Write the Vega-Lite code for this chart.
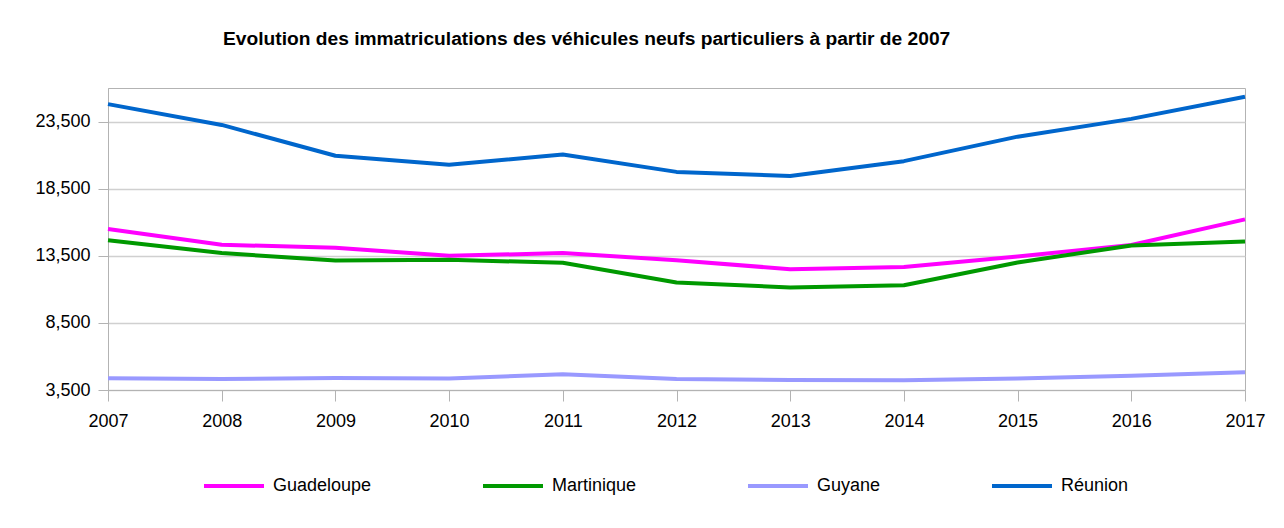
{
  "$schema": "https://vega.github.io/schema/vega-lite/v6.json",
  "autosize": {"type": "none"},
  "width": 1137,
  "height": 302,
  "padding": {"left": 108, "top": 88, "right": 39, "bottom": 138},
  "background": "white",
  "title": {
    "text": "Evolution des immatriculations des véhicules neufs particuliers à partir de 2007",
    "anchor": "start",
    "frame": "group",
    "dx": 115,
    "offset": 39,
    "font": "Liberation Sans",
    "fontSize": 19.2,
    "fontWeight": "bold",
    "color": "black"
  },
  "data": {
    "values": [
      {"year": 2007, "region": "Guadeloupe", "value": 15490},
      {"year": 2008, "region": "Guadeloupe", "value": 14320},
      {"year": 2009, "region": "Guadeloupe", "value": 14100},
      {"year": 2010, "region": "Guadeloupe", "value": 13500},
      {"year": 2011, "region": "Guadeloupe", "value": 13700},
      {"year": 2012, "region": "Guadeloupe", "value": 13170},
      {"year": 2013, "region": "Guadeloupe", "value": 12500},
      {"year": 2014, "region": "Guadeloupe", "value": 12670},
      {"year": 2015, "region": "Guadeloupe", "value": 13450},
      {"year": 2016, "region": "Guadeloupe", "value": 14300},
      {"year": 2017, "region": "Guadeloupe", "value": 16210},
      {"year": 2007, "region": "Martinique", "value": 14650},
      {"year": 2008, "region": "Martinique", "value": 13700},
      {"year": 2009, "region": "Martinique", "value": 13150},
      {"year": 2010, "region": "Martinique", "value": 13200},
      {"year": 2011, "region": "Martinique", "value": 12980},
      {"year": 2012, "region": "Martinique", "value": 11510},
      {"year": 2013, "region": "Martinique", "value": 11135},
      {"year": 2014, "region": "Martinique", "value": 11300},
      {"year": 2015, "region": "Martinique", "value": 13000},
      {"year": 2016, "region": "Martinique", "value": 14270},
      {"year": 2017, "region": "Martinique", "value": 14570},
      {"year": 2007, "region": "Guyane", "value": 4370},
      {"year": 2008, "region": "Guyane", "value": 4320},
      {"year": 2009, "region": "Guyane", "value": 4400},
      {"year": 2010, "region": "Guyane", "value": 4350},
      {"year": 2011, "region": "Guyane", "value": 4670},
      {"year": 2012, "region": "Guyane", "value": 4320},
      {"year": 2013, "region": "Guyane", "value": 4250},
      {"year": 2014, "region": "Guyane", "value": 4220},
      {"year": 2015, "region": "Guyane", "value": 4350},
      {"year": 2016, "region": "Guyane", "value": 4570},
      {"year": 2017, "region": "Guyane", "value": 4820},
      {"year": 2007, "region": "Réunion", "value": 24800},
      {"year": 2008, "region": "Réunion", "value": 23250},
      {"year": 2009, "region": "Réunion", "value": 20950},
      {"year": 2010, "region": "Réunion", "value": 20275},
      {"year": 2011, "region": "Réunion", "value": 21050},
      {"year": 2012, "region": "Réunion", "value": 19750},
      {"year": 2013, "region": "Réunion", "value": 19450},
      {"year": 2014, "region": "Réunion", "value": 20550},
      {"year": 2015, "region": "Réunion", "value": 22375},
      {"year": 2016, "region": "Réunion", "value": 23700},
      {"year": 2017, "region": "Réunion", "value": 25350}
    ]
  },
  "mark": {"type": "line", "strokeWidth": 4, "strokeJoin": "round"},
  "encoding": {
    "x": {
      "field": "year",
      "type": "quantitative",
      "scale": {"domain": [2007, 2017], "nice": false, "zero": false},
      "axis": {
        "title": null,
        "values": [2007, 2008, 2009, 2010, 2011, 2012, 2013, 2014, 2015, 2016, 2017],
        "format": "d",
        "grid": false,
        "labelFlush": false,
        "tickSize": 11,
        "labelPadding": 11
      }
    },
    "y": {
      "field": "value",
      "type": "quantitative",
      "scale": {"domain": [3500, 26000], "nice": false, "zero": false},
      "axis": {
        "title": null,
        "values": [3500, 8500, 13500, 18500, 23500],
        "format": ",.0f",
        "labelFlush": false,
        "tickSize": 10,
        "labelPadding": 8
      }
    },
    "color": {
      "field": "region",
      "type": "nominal",
      "scale": {
        "domain": ["Guadeloupe", "Martinique", "Guyane", "Réunion"],
        "range": ["#ff00ff", "#009900", "#9999ff", "#0066cc"]
      },
      "legend": {
        "title": null,
        "orient": "none",
        "legendX": 94,
        "legendY": 366,
        "direction": "horizontal",
        "symbolType": "stroke",
        "symbolStrokeWidth": 4,
        "symbolSize": 3600,
        "labelFont": "Liberation Sans",
        "labelFontSize": 18,
        "labelColor": "black",
        "labelOffset": 7,
        "columnPadding": 103
      }
    }
  },
  "config": {
    "view": {"stroke": "#b3b3b3", "strokeWidth": 1},
    "axis": {
      "labelFont": "Liberation Sans",
      "labelFontSize": 18,
      "labelColor": "black",
      "tickColor": "#b3b3b3",
      "domainColor": "#b3b3b3",
      "gridColor": "#d0d0d0",
      "gridWidth": 1.5
    }
  }
}
